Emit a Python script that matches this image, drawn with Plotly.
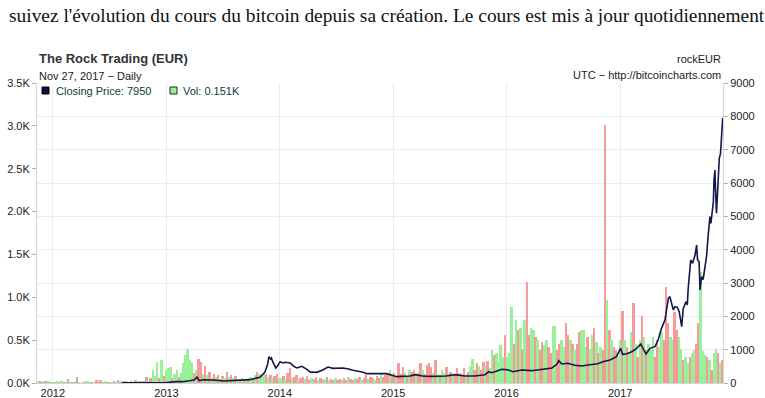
import plotly.graph_objects as go
import pandas as pd

# ---------------- data ----------------
price_dates = [
    "2012-08-10", "2012-09-27", "2012-11-15", "2013-01-01", "2013-02-03", "2013-02-20",
    "2013-03-17", "2013-04-01", "2013-04-09", "2013-04-16", "2013-04-30", "2013-06-01",
    "2013-07-05", "2013-07-24", "2013-08-15", "2013-09-26", "2013-10-29", "2013-11-14",
    "2013-11-22", "2013-11-27", "2013-12-02", "2013-12-05", "2013-12-09", "2013-12-14",
    "2013-12-19", "2013-12-25", "2014-01-02", "2014-01-11", "2014-01-20", "2014-02-03",
    "2014-02-15", "2014-02-25", "2014-03-13", "2014-03-29", "2014-04-10", "2014-04-15",
    "2014-04-30", "2014-05-19", "2014-06-05", "2014-06-21", "2014-07-23", "2014-08-10",
    "2014-08-25", "2014-09-26", "2014-10-08", "2014-11-09", "2014-12-11", "2015-01-13",
    "2015-02-01", "2015-02-24", "2015-03-12", "2015-04-06", "2015-04-29", "2015-05-25",
    "2015-06-20", "2015-07-18", "2015-08-20", "2015-09-21", "2015-10-23", "2015-11-05",
    "2015-11-15", "2015-12-17", "2016-01-05", "2016-01-21", "2016-02-19", "2016-03-22",
    "2016-04-24", "2016-05-26", "2016-06-11", "2016-06-17", "2016-06-27", "2016-07-16",
    "2016-08-08", "2016-08-30", "2016-09-19", "2016-10-21", "2016-11-06", "2016-11-29",
    "2016-12-20", "2017-01-02", "2017-01-09", "2017-01-22", "2017-02-07", "2017-02-23",
    "2017-03-08", "2017-03-16", "2017-03-25", "2017-04-07", "2017-04-23", "2017-05-03",
    "2017-05-14", "2017-05-25", "2017-05-30", "2017-06-05", "2017-06-10", "2017-06-15",
    "2017-06-21", "2017-06-26", "2017-07-04", "2017-07-10", "2017-07-18", "2017-07-23",
    "2017-08-01", "2017-08-05", "2017-08-08", "2017-08-16", "2017-08-22", "2017-08-30",
    "2017-09-04", "2017-09-07", "2017-09-12", "2017-09-15", "2017-09-20", "2017-09-25",
    "2017-10-01", "2017-10-06", "2017-10-11", "2017-10-17", "2017-10-20", "2017-10-24",
    "2017-10-28", "2017-10-30", "2017-11-02", "2017-11-04", "2017-11-07", "2017-11-11",
    "2017-11-13", "2017-11-16", "2017-11-20", "2017-11-24", "2017-11-27",
]
price_vals = [
    8, 10, 9, 11, 40, 40,
    70, 100, 180, 70, 95, 90,
    60, 70, 80, 100, 170, 330,
    550, 790, 720, 750, 640, 560,
    450, 520, 640, 600, 620, 600,
    500, 450, 500, 410, 320, 330,
    320, 390, 480, 440, 450, 420,
    380, 320, 280, 280, 280, 190,
    200, 210, 250, 210, 200, 200,
    210, 250, 210, 210, 250, 340,
    310, 410, 400, 340, 390, 370,
    400, 450, 560, 670, 570, 590,
    530, 510, 540, 580, 640, 690,
    790, 1040, 860, 880, 940, 1040,
    1170, 1040, 870, 1040, 1090, 1290,
    1640, 1890, 2140, 2540, 2590, 2440,
    2190, 2290, 2270, 2140, 1690, 2240,
    2440, 2340, 2840, 3690, 3590, 3840,
    4140, 3700, 3640, 2790, 3190, 3100,
    3490, 3800, 4400, 4990, 4790, 5090,
    5440, 6090, 6390, 5790, 5090, 5790,
    6490, 6740, 6890, 7390, 7950,
]

# weekly volume (units; left axis in K), colour code: g = up, r = down, n = unchanged
vol_2011 = [15, 20, 10, 25, 15, 20, 10]
col_2011 = "gnrgngr"
vol_2012 = [10, 5, 15, 5, 20, 10, 5, 45, 10, 5,
            10, 75, 10, 0, 5, 15, 25, 5, 10, 5,
            35, 5, 30, 10, 20, 5, 10, 5, 15, 10,
            30, 15, 10, 20, 15, 10, 15, 10, 40, 20,
            15, 25, 20, 70, 25, 60, 150, 80, 250, 60,
            270, 80, 150]
col_2012 = "gngrgngrgn" + "nnggrggnrg" + "rnrggnrgng" + "rgnrgrngrg" + "rgrngrgggr" + "grg"
vol_2013 = [175, 190, 60, 110, 150, 70, 120, 230, 330, 395,
            270, 250, 120, 150, 280, 250, 110, 200, 90, 130,
            60, 100, 70, 90, 50, 80, 60, 130, 70, 90,
            60, 80, 50, 40, 60, 30, 50, 40, 70, 60,
            90, 130, 100, 80, 120, 110, 70, 90, 60, 80,
            100, 60]
col_2013 = "ggrggrgggg" + "ggrgrrgrgr" + "grgrgrgrgr" + "grgrgrgrgr" + "grgggrgrgr" + "rg"
vol_2014 = [60, 80, 50, 120, 180, 60, 70, 90, 40, 60,
            70, 50, 80, 40, 60, 50, 70, 30, 60, 40,
            50, 70, 40, 50, 40, 60, 40, 50, 30, 60,
            40, 70, 50, 40, 60, 50, 70, 40, 60, 95,
            50, 70, 60, 40, 80, 60, 100, 70, 90, 115,
            150, 80]
col_2014 = "grgrrgrrgr" + "rgrrgrrgrr" + "grgrrgrrgr" + "rgrrgrrgrr" + "grrgrrgrrr" + "gr"
vol_2015 = [120, 80, 230, 100, 190, 120, 80, 150, 130, 150,
            90, 120, 230, 150, 100, 210, 230, 190, 120, 270,
            110, 90, 150, 120, 190, 100, 130, 90, 110, 180,
            120, 100, 170, 90, 130, 200, 280, 150, 230, 200,
            150, 250, 200, 260, 180, 385, 330, 350, 250, 440,
            300, 560]
col_2015 = "rgrrrgrgrr" + "grrgrrrrgr" + "grggrgrgrr" + "grrgrggrrg" + "rrgrggrggg" + "gr"
vol_2016 = [300, 350, 890, 460, 735, 620, 640, 400, 730, 1180,
            560, 640, 620, 540, 500, 380, 480, 440, 500, 420,
            350, 660, 660, 385, 450, 500, 420, 700, 560, 500,
            460, 380, 460, 600, 620, 620, 420, 540, 400, 560,
            640, 480, 350, 420, 385, 3010, 970, 620, 500, 420,
            385, 300]
col_2016 = "gggrgrgrgr" + "rggrgrrggr" + "rggrrggrrg" + "rgrrgggrgg" + "rgrgrrgrgr" + "rg"
vol_2017 = [500, 840, 500, 420, 350, 600, 935, 450, 300, 500,
            780, 540, 380, 450, 385, 540, 300, 500, 420, 600,
            500, 1120, 700, 540, 500, 830, 620, 540, 400, 270,
            300, 230, 300, 350, 385, 460, 700, 1300, 370, 330,
            300, 270, 150, 350, 400, 350, 230, 270]
col_2017 = "grgrggrgrg" + "rgrgggrrgg" + "rrrggrrggr" + "ggrggrrggg" + "rgrggrgr"

vol_first_week = "2011-11-14"

left_ticks = [0, 500, 1000, 1500, 2000, 2500, 3000, 3500]
left_labels = ["0.0K", "0.5K", "1.0K", "1.5K", "2.0K", "2.5K", "3.0K", "3.5K"]
right_ticks = [0, 1000, 2000, 3000, 4000, 5000, 6000, 7000, 8000, 9000]
year_ticks = ["2012-01-01", "2013-01-01", "2014-01-01", "2015-01-01", "2016-01-01", "2017-01-01"]
year_labels = ["2012", "2013", "2014", "2015", "2016", "2017"]

# ---------------- build ----------------
vol = vol_2011 + vol_2012 + vol_2013 + vol_2014 + vol_2015 + vol_2016 + vol_2017
codes = col_2011 + col_2012 + col_2013 + col_2014 + col_2015 + col_2016 + col_2017
cmap = {"g": "#98f098", "r": "#f79a9a", "n": "#b4b4b4"}
bar_colors = [cmap[c] for c in codes]
week_dates = pd.date_range(vol_first_week, periods=len(vol), freq="7D")

W, H = 765, 398
L, R, T, B = 37, 42, 83, 15
PW, PH = W - L - R, H - T - B


def px(x):
    return (x - L) / PW


def py(y):
    return (H - B - y) / PH


fig = go.Figure()
fig.add_trace(go.Bar(
    x=week_dates, y=vol, marker=dict(color=bar_colors, line=dict(width=0)),
    width=6.3 * 86400000, yaxis="y", showlegend=False, hoverinfo="skip",
))
fig.add_trace(go.Scatter(
    x=price_dates, y=price_vals, mode="lines", yaxis="y2",
    line=dict(color="#15164a", width=1.6), showlegend=False,
))

tickfont = dict(family="Liberation Sans, Arial, sans-serif", size=11, color="#222222")
fig.update_layout(
    width=W, height=H, margin=dict(l=L, r=R, t=T, b=B, autoexpand=False),
    paper_bgcolor="white", plot_bgcolor="white",
    bargap=0,
    xaxis=dict(
        type="date", range=["2011-11-11", "2017-11-28"], automargin=False,
        tickvals=year_ticks, ticktext=year_labels, tickfont=tickfont,
        showgrid=True, gridcolor="#ececec", gridwidth=1,
        showline=True, linecolor="#d4d4d4", ticks="", zeroline=False,
    ),
    yaxis=dict(
        range=[0, 3500], tickvals=left_ticks, ticktext=left_labels, tickfont=tickfont,
        showgrid=False, showline=True, linecolor="#d4d4d4", ticks="outside",
        ticklen=4, tickcolor="#b0b0b0", zeroline=False, automargin=False,
    ),
    yaxis2=dict(
        range=[0, 9000], tickvals=right_ticks, overlaying="y", side="right",
        tickfont=tickfont, showgrid=True, gridcolor="#ececec", gridwidth=1,
        showline=True, linecolor="#d4d4d4", ticks="outside", ticklen=4,
        tickcolor="#b0b0b0", zeroline=False, automargin=False,
    ),
    font=dict(family="Liberation Sans, Arial, sans-serif"),
)

sans = "Liberation Sans, Arial, sans-serif"
ann = [
    dict(text="suivez l'évolution du cours du bitcoin depuis sa création. Le cours est mis à jour quotidiennement",
         x=px(7), y=py(16), xanchor="left", yanchor="middle",
         font=dict(family="Liberation Serif, serif", size=19.4, color="#111111")),
    dict(text="<b>The Rock Trading (EUR)</b>", x=px(37), y=py(59), xanchor="left", yanchor="middle",
         font=dict(family=sans, size=13, color="#333333")),
    dict(text="Nov 27, 2017 − Daily", x=px(37), y=py(76), xanchor="left", yanchor="middle",
         font=dict(family=sans, size=11, color="#222222")),
    dict(text="rockEUR", x=px(723), y=py(59), xanchor="right", yanchor="middle",
         font=dict(family=sans, size=11, color="#222222")),
    dict(text="UTC − http://bitcoincharts.com", x=px(723), y=py(75), xanchor="right", yanchor="middle",
         font=dict(family=sans, size=11, color="#222222")),
    dict(text="Closing Price: 7950", x=px(54), y=py(91), xanchor="left", yanchor="middle",
         font=dict(family=sans, size=11, color="#0b3b3b")),
    dict(text="Vol: 0.151K", x=px(181), y=py(91), xanchor="left", yanchor="middle",
         font=dict(family=sans, size=11, color="#0b3b3b")),
]
for a in ann:
    a.update(xref="paper", yref="paper", showarrow=False)
fig.update_layout(annotations=ann)

fig.update_layout(shapes=[
    dict(type="rect", xref="paper", yref="paper", x0=px(42), x1=px(49), y0=py(94), y1=py(87),
         fillcolor="#0c0c40", line=dict(color="#000000", width=1)),
    dict(type="rect", xref="paper", yref="paper", x0=px(170), x1=px(177), y0=py(94), y1=py(87),
         fillcolor="#98f098", line=dict(color="#222222", width=1)),
])

fig.write_html("out.html")
